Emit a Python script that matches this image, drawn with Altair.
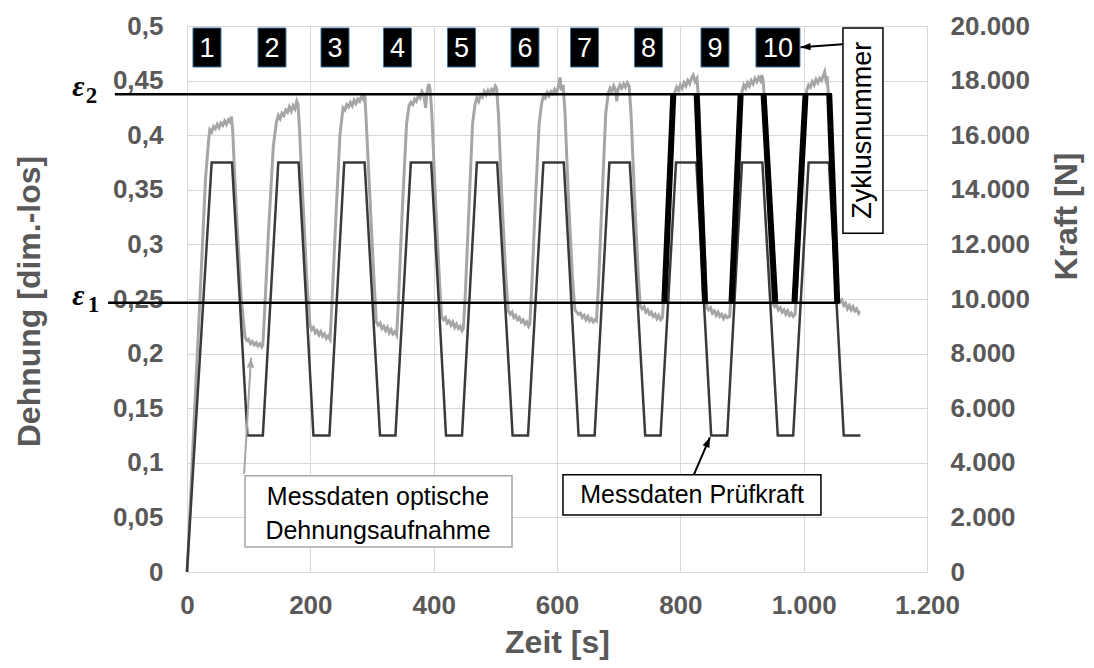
import altair as alt
import pandas as pd

# ---------------- data ----------------
# Kraft (force) measured data: time [s], force [N]
force_t = [0, 2, 40, 73, 98, 123, 148, 181, 205, 231, 255, 288, 313, 338,
           363, 396, 420, 446, 470, 503, 528, 553, 578, 611, 635, 661,
           685, 718, 743, 768, 793, 826, 850, 876, 900, 933, 958, 983,
           1008, 1041, 1065, 1092]
force_v = [0, 800, 15000, 15000, 5000, 5000, 15000, 15000, 5000, 5000,
           15000, 15000, 5000, 5000, 15000, 15000, 5000, 5000,
           15000, 15000, 5000, 5000, 15000, 15000, 5000, 5000,
           15000, 15000, 5000, 5000, 15000, 15000, 5000, 5000,
           15000, 15000, 5000, 5000, 15000, 15000, 5000, 5000]

# Dehnung (optical strain) measured data: time [s], strain [-]
strain_t = [0, 2, 10, 21, 30, 35, 37,
            40, 43, 46, 49, 52, 55, 58, 61, 64, 67, 70, 72,
            74, 80, 88, 94,
            97, 100, 103, 106, 109, 112, 115, 118, 121, 123,
            126, 132, 140, 145,
            148, 151, 154, 157, 160, 163, 166, 169, 172, 175, 178, 180,
            182, 188, 195, 199.5,
            202, 205, 208, 211, 214, 217, 220, 223, 226, 229, 232,
            235, 241, 248, 253,
            256, 259, 262, 265, 268, 271, 274, 277, 280, 283, 286, 288,
            290, 296, 303, 307,
            310, 313, 316, 319, 322, 325, 328, 331, 334, 337, 340,
            343, 349, 356, 360,
            363, 366, 369, 372, 375, 378, 381, 384, 387, 389, 392, 394,
            397, 403, 410, 413,
            416, 419, 422, 425, 428, 431, 434, 437, 440, 443, 446, 448,
            451, 457, 463, 467,
            470, 473, 476, 479, 482, 485, 488, 491, 494, 497, 500, 502,
            505, 510, 517, 521,
            524, 527, 530, 533, 536, 539, 542, 545, 548, 551, 554, 556,
            559, 565, 571, 575,
            578, 581, 584, 587, 590, 593, 596, 599, 602, 605, 607, 610,
            613, 618, 625, 629,
            632, 635, 638, 641, 644, 647, 650, 653, 656, 659, 662, 664,
            667, 673, 679, 683,
            686, 689, 692, 695, 697, 699, 702, 705, 708, 711, 714, 717,
            720, 726, 732, 735,
            738, 741, 744, 747, 750, 753, 756, 759, 762, 765, 768, 771,
            774, 780, 786, 791,
            794, 797, 800, 803, 806, 809, 812, 815, 818, 821, 824, 827,
            830, 835, 840, 843,
            846, 849, 852, 855, 858, 861, 864, 867, 870, 873, 876, 880,
            883, 889, 895, 900,
            903, 906, 909, 912, 915, 918, 921, 924, 927, 930, 932, 934,
            937, 942, 947, 950,
            953, 956, 959, 962, 965, 968, 971, 974, 977, 980, 983, 986,
            989, 995, 1001, 1005,
            1008, 1011, 1014, 1017, 1020, 1023, 1026, 1029, 1032, 1034, 1036, 1038,
            1041, 1046, 1051, 1056,
            1059, 1062, 1065, 1068, 1071, 1074, 1077, 1080, 1083, 1086, 1089, 1091]
strain_v = [0.000, 0.020, 0.120, 0.250, 0.360, 0.395, 0.405,
            0.403, 0.408, 0.406, 0.410, 0.407, 0.411, 0.409, 0.413, 0.410, 0.414, 0.412, 0.417,
            0.405, 0.330, 0.250, 0.215,
            0.212, 0.213, 0.209, 0.211, 0.208, 0.210, 0.207, 0.209, 0.206, 0.208,
            0.240, 0.310, 0.390, 0.412,
            0.418, 0.415, 0.420, 0.418, 0.423, 0.421, 0.426, 0.422, 0.427, 0.424, 0.431, 0.428,
            0.410, 0.340, 0.260, 0.226,
            0.222, 0.224, 0.219, 0.221, 0.217, 0.220, 0.216, 0.218, 0.214, 0.216, 0.213,
            0.245, 0.320, 0.400, 0.425,
            0.423, 0.428, 0.426, 0.430, 0.427, 0.432, 0.429, 0.433, 0.431, 0.436, 0.433, 0.438,
            0.420, 0.350, 0.270, 0.229,
            0.226, 0.228, 0.223, 0.225, 0.221, 0.224, 0.219, 0.222, 0.218, 0.220, 0.217,
            0.250, 0.330, 0.410, 0.427,
            0.430, 0.428, 0.433, 0.431, 0.436, 0.434, 0.440, 0.437, 0.425, 0.439, 0.447, 0.443,
            0.420, 0.340, 0.260, 0.234,
            0.231, 0.233, 0.228, 0.230, 0.226, 0.229, 0.224, 0.227, 0.223, 0.225, 0.221, 0.223,
            0.250, 0.330, 0.410, 0.428,
            0.434, 0.431, 0.437, 0.435, 0.440, 0.437, 0.441, 0.438, 0.442, 0.440, 0.445, 0.443,
            0.420, 0.350, 0.270, 0.239,
            0.236, 0.238, 0.233, 0.235, 0.231, 0.233, 0.229, 0.231, 0.227, 0.229, 0.225, 0.227,
            0.260, 0.340, 0.410, 0.429,
            0.436, 0.434, 0.439, 0.436, 0.440, 0.438, 0.442, 0.439, 0.444, 0.453, 0.441, 0.446,
            0.420, 0.350, 0.270, 0.240,
            0.238, 0.236, 0.237, 0.233, 0.235, 0.231, 0.234, 0.230, 0.232, 0.229, 0.231, 0.230,
            0.260, 0.340, 0.420, 0.438,
            0.443, 0.440, 0.445, 0.441, 0.431, 0.442, 0.446, 0.443, 0.447, 0.444, 0.448, 0.445,
            0.420, 0.340, 0.270, 0.244,
            0.241, 0.243, 0.238, 0.240, 0.236, 0.238, 0.234, 0.236, 0.232, 0.235, 0.231, 0.233,
            0.260, 0.340, 0.420, 0.439,
            0.444, 0.441, 0.446, 0.443, 0.448, 0.445, 0.450, 0.447, 0.452, 0.455, 0.449, 0.452,
            0.430, 0.350, 0.280, 0.242,
            0.240, 0.242, 0.237, 0.239, 0.235, 0.238, 0.234, 0.236, 0.232, 0.235, 0.233, 0.234,
            0.260, 0.340, 0.420, 0.440,
            0.446, 0.443, 0.448, 0.445, 0.450, 0.447, 0.452, 0.449, 0.453, 0.450, 0.455, 0.451,
            0.430, 0.350, 0.280, 0.246,
            0.243, 0.245, 0.240, 0.242, 0.238, 0.240, 0.236, 0.239, 0.235, 0.237, 0.234, 0.236,
            0.260, 0.340, 0.420, 0.441,
            0.446, 0.444, 0.449, 0.446, 0.451, 0.448, 0.452, 0.450, 0.455, 0.458, 0.451, 0.454,
            0.430, 0.350, 0.280, 0.251,
            0.247, 0.249, 0.244, 0.246, 0.241, 0.244, 0.240, 0.243, 0.239, 0.241, 0.237, 0.239]

# strain thresholds
eps_names = ["eps2", "eps2", "eps1", "eps1"]
eps_t = [-117, 1046, -128, 1058]
eps_v = [0.4375, 0.4375, 0.2465, 0.2465]

# thick legs between eps1 and eps2 for cycles 8, 9, 10
leg_ids = ["8a", "8a", "8b", "8b", "9a", "9a", "9b", "9b", "10a", "10a", "10b", "10b"]
leg_t = [774, 788.6, 826.5, 840, 883, 897.8, 935, 954, 985, 1003, 1041.5, 1054.5]
leg_v = [0.2465, 0.4375, 0.4375, 0.2465, 0.2465, 0.4375, 0.4375, 0.2465,
         0.2465, 0.4375, 0.4375, 0.2465]

# cycle number boxes
cyc_labels = ["1", "2", "3", "4", "5", "6", "7", "8", "9"]
cyc_t = [32.4, 137.8, 240.0, 341.3, 445.1, 548.1, 644.6, 748.3, 856.2]
cyc10_label = ["10"]
cyc10_t = [958.3]
cyc_level = 0.4803

# ---------------- frames ----------------
strain_df = pd.DataFrame({"t": strain_t, "v": strain_v})
force_df = pd.DataFrame({"t": force_t, "f": force_v})
eps_df = pd.DataFrame({"t": eps_t, "v": eps_v, "name": eps_names})
leg_df = pd.DataFrame({"t": leg_t, "v": leg_v, "leg": leg_ids})
cyc_df = pd.DataFrame({"t": cyc_t, "v": [cyc_level] * len(cyc_t), "label": cyc_labels})
cyc10_df = pd.DataFrame({"t": cyc10_t, "v": [cyc_level], "label": cyc10_label})

FONT = "Liberation Sans"
GREY = "#595959"

xscale = alt.Scale(domain=[0, 1200], nice=False, zero=False)
yscale = alt.Scale(domain=[0, 0.5], nice=False)
fscale = alt.Scale(domain=[0, 20000], nice=False)

xaxis = alt.Axis(values=[0, 200, 400, 600, 800, 1000, 1200], title="Zeit [s]",
                 labelExpr="replace(format(datum.value, ','), ',', '.')",
                 grid=True, gridColor="#D9D9D9", domain=False, ticks=False,
                 labelFlush=False, labelPadding=20, labelFontSize=26,
                 labelFontWeight="bold", labelColor=GREY, labelFont=FONT,
                 titleFontSize=32, titleFontWeight="bold", titleColor=GREY,
                 titleFont=FONT, titleX=370, titleY=70, titleBaseline="middle")
laxis = alt.Axis(values=[0, 0.05, 0.1, 0.15, 0.2, 0.25, 0.3, 0.35, 0.4, 0.45, 0.5],
                 title="Dehnung [dim.-los]", orient="left",
                 labelExpr="replace(format(datum.value, '.2~f'), '.', ',')",
                 grid=True, gridColor="#D9D9D9", domain=False, ticks=False,
                 labelPadding=24, labelFontSize=26, labelFontWeight="bold",
                 labelColor=GREY, labelFont=FONT,
                 titleFontSize=32, titleFontWeight="bold", titleColor=GREY,
                 titleFont=FONT, titleX=-158, titleY=275, titleAngle=270,
                 titleBaseline="middle", titleAlign="center")
raxis = alt.Axis(values=[0, 2000, 4000, 6000, 8000, 10000, 12000, 14000, 16000, 18000, 20000],
                 title="Kraft [N]", orient="right",
                 labelExpr="replace(format(datum.value, ','), ',', '.')",
                 grid=False, domain=False, ticks=False,
                 labelPadding=23, labelFontSize=26, labelFontWeight="bold",
                 labelColor=GREY, labelFont=FONT,
                 titleFontSize=32, titleFontWeight="bold", titleColor=GREY,
                 titleFont=FONT, titleX=139, titleY=190, titleAngle=270,
                 titleBaseline="middle", titleAlign="center")


def X():
    return alt.X("t:Q", scale=xscale, axis=xaxis)


def Y():
    return alt.Y("v:Q", scale=yscale, axis=None)


# strain line
strain_line = alt.Chart(strain_df).mark_line(color="#A6A6A6", strokeWidth=3).encode(
    x=X(),
    y=alt.Y("v:Q", scale=yscale, axis=laxis),
)

# force line
force_line = alt.Chart(force_df).mark_line(color="#3A3A3A", strokeWidth=2.5).encode(
    x=X(),
    y=alt.Y("f:Q", scale=fscale, axis=raxis),
)

eps_lines = alt.Chart(eps_df).mark_line(color="black", strokeWidth=2.5).encode(
    x=X(), y=Y(), detail="name:N")
legs = alt.Chart(leg_df).mark_line(color="black", strokeWidth=6).encode(
    x=X(), y=Y(), detail="leg:N")

cyc_box = alt.Chart(cyc_df).mark_rect(width=28, height=39, color="black",
                                      stroke="#41719C", strokeWidth=1).encode(x=X(), y=Y())
cyc10_box = alt.Chart(cyc10_df).mark_rect(width=44, height=39, color="black",
                                          stroke="#41719C", strokeWidth=1).encode(x=X(), y=Y())
cyc_txt = alt.Chart(pd.concat([cyc_df, cyc10_df])).mark_text(
    color="white", fontSize=27, font=FONT, baseline="middle", align="center", dy=1).encode(
    x=X(), y=Y(), text="label:N")

# annotation boxes and texts (data coordinates)
ann_boxes = pd.DataFrame({
    "t": [94, 609.7, 1063.7], "t2": [527, 1028, 1128.6],
    "v": [0.0881, 0.0890, 0.4982], "v2": [0.0229, 0.0523, 0.3101],
    "kind": ["grey", "black", "black"]})
boxes = alt.Chart(ann_boxes).mark_rect(fill="white", strokeWidth=1.5).encode(
    x=X(), x2="t2:Q", y=Y(), y2="v2:Q",
    stroke=alt.Stroke("kind:N", scale=alt.Scale(domain=["grey", "black"],
                                                range=["#A6A6A6", "#000000"]), legend=None))

ann_txt = pd.DataFrame({
    "t": [309.7, 309.7, 819],
    "v": [0.0688, 0.0376, 0.0706],
    "txt": ["Messdaten optische", "Dehnungsaufnahme", "Messdaten Prüfkraft"]})
texts = alt.Chart(ann_txt).mark_text(fontSize=25, font=FONT, color="black",
                                     baseline="middle", align="center").encode(
    x=X(), y=Y(), text="txt:N")
zyk = alt.Chart(pd.DataFrame({"t": [1096], "v": [0.4046], "txt": ["Zyklusnummer"]})).mark_text(
    fontSize=27, font=FONT, color="black", baseline="middle", align="center", angle=270).encode(
    x=X(), y=Y(), text="txt:N")

# arrows
arr_grey = pd.DataFrame({"t": [92.6, 103.8], "v": [0.0899, 0.1963]})
arr_black = pd.DataFrame({"t": [821.8, 848, 1063.2, 995], "v": [0.0890, 0.1232, 0.4832, 0.4805],
                          "id": ["a", "a", "b", "b"]})
grey_line = alt.Chart(arr_grey).mark_line(color="#A6A6A6", strokeWidth=2).encode(x=X(), y=Y())
black_line = alt.Chart(arr_black).mark_line(color="black", strokeWidth=2).encode(
    x=X(), y=Y(), detail="id:N")
head_path = "M0,0L0.7,1.9L-0.7,1.9Z"
head1 = alt.Chart(arr_grey.iloc[[1]]).mark_point(shape=head_path, filled=True, size=110,
                                                 color="#A6A6A6", opacity=1, angle=3).encode(x=X(), y=Y())
head2 = alt.Chart(arr_black.iloc[[1]]).mark_point(shape=head_path, filled=True, size=110,
                                                  color="black", opacity=1, angle=23).encode(x=X(), y=Y())
head3 = alt.Chart(arr_black.iloc[[3]]).mark_point(shape=head_path, filled=True, size=110,
                                                  color="black", opacity=1, angle=266).encode(x=X(), y=Y())

# epsilon labels
eps_lab = pd.DataFrame({"t": [-186, -186], "v": [0.4375, 0.2465], "txt": ["ε", "ε"]})
eps_sub = pd.DataFrame({"t": [-164, -161], "v": [0.4375, 0.2465], "txt": ["2", "1"]})
eps_t1 = alt.Chart(eps_lab).mark_text(font="Liberation Serif", fontSize=30, fontWeight="bold",
                                      fontStyle="italic", align="left", baseline="alphabetic",
                                      dy=2, color="black").encode(x=X(), y=Y(), text="txt:N")
eps_t2 = alt.Chart(eps_sub).mark_text(font="Liberation Serif", fontSize=23, fontWeight="bold",
                                      align="left", baseline="alphabetic", dy=9,
                                      color="black").encode(x=X(), y=Y(), text="txt:N")

annot = alt.layer(eps_lines, legs, cyc_box, cyc10_box, cyc_txt, boxes, texts, zyk,
                  grey_line, black_line, head1, head2, head3, eps_t1, eps_t2)

chart = alt.layer(strain_line, force_line, annot).resolve_scale(y="independent").properties(
    width=740, height=546,
    autosize=alt.AutoSizeParams(type="none"),
    padding={"left": 179, "top": 18, "right": 159, "bottom": 88},
).configure_view(stroke=None).configure(background="white")

chart.save("out.html", embed_options={"renderer": "svg", "actions": False})
